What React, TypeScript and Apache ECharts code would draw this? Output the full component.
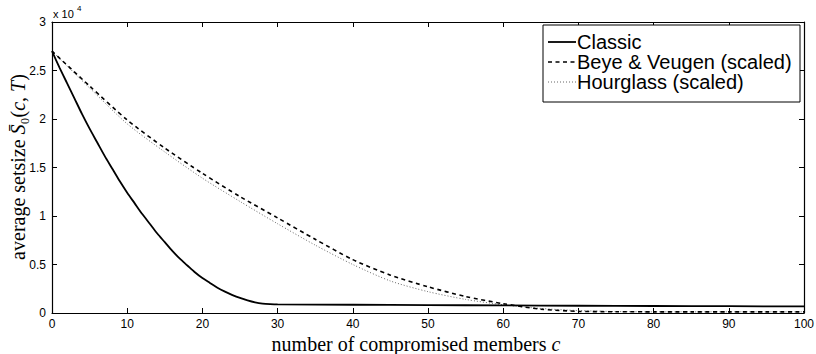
import React, { useEffect, useRef } from "react";
import * as echarts from "echarts";

// values in units of 10^4
const classicX = [0, 1, 2, 3, 4, 5, 6, 7, 8, 9, 10, 11, 12, 13, 14, 15, 16, 17, 18, 19, 20, 21, 22, 23, 24, 25, 26, 27, 28, 29, 30, 40, 50, 60, 70, 80, 90, 100];
const classicY = [2.70, 2.53, 2.37, 2.21, 2.05, 1.90, 1.76, 1.62, 1.49, 1.36, 1.24, 1.13, 1.02, 0.92, 0.82, 0.73, 0.64, 0.56, 0.49, 0.42, 0.36, 0.31, 0.26, 0.22, 0.185, 0.155, 0.13, 0.11, 0.097, 0.091, 0.088, 0.085, 0.082, 0.078, 0.075, 0.072, 0.070, 0.068];

const scaledX = [0, 5, 10, 15, 20, 25, 30, 35, 40, 45, 50, 55, 60, 65, 70, 75, 80, 85, 90, 95, 100];
const beyeY = [2.70, 2.34, 1.99, 1.70, 1.44, 1.20, 0.98, 0.76, 0.55, 0.39, 0.27, 0.17, 0.096, 0.04, 0.017, 0.013, 0.012, 0.012, 0.012, 0.012, 0.012];
const hourglassY = [2.70, 2.32, 1.95, 1.66, 1.39, 1.15, 0.92, 0.70, 0.50, 0.33, 0.22, 0.14, 0.085, 0.047, 0.025, 0.015, 0.012, 0.012, 0.012, 0.012, 0.012];

const xTicks = { min: 0, max: 100, interval: 10 };
const yTicks = { min: 0, max: 3, interval: 0.5 };

const seriesNames = ["Classic", "Beye & Veugen (scaled)", "Hourglass (scaled)"];

const zip = (xs: number[], ys: number[]) => xs.map((x, i) => [x, ys[i]]);

export default function App() {
  const ref = useRef<HTMLDivElement>(null);
  useEffect(() => {
    if (!ref.current) return;
    const chart = echarts.init(ref.current, null, { renderer: "svg" });
    const sans = "Liberation Sans, Arial, Helvetica, sans-serif";
    const serif = "Liberation Serif, DejaVu Serif, serif";
    const axisCommon = {
      axisLine: { show: true, onZero: false, lineStyle: { color: "#000", width: 1.2 } },
      axisTick: { show: true, inside: true, length: 5, lineStyle: { color: "#000", width: 1 } },
      splitLine: { show: false },
    };
    const styles = [
      { color: "#000", width: 1.8, type: "solid" as any },
      { color: "#000", width: 1.6, type: [4, 3.5] as any },
      { color: "#666", width: 1, type: [1, 2] as any },
    ];
    const legendLeft = 543;
    const legendTop = 25;
    const rowY = [42, 62, 82];
    const legendGraphics: any[] = [
      {
        type: "rect",
        shape: { x: legendLeft, y: legendTop, width: 257, height: 77 },
        style: { fill: "#fff", stroke: "#000", lineWidth: 1 },
        z: 10,
      },
    ];
    seriesNames.forEach((n, i) => {
      legendGraphics.push({
        type: "line",
        shape: { x1: legendLeft + 5, y1: rowY[i], x2: legendLeft + 33, y2: rowY[i] },
        style: {
          stroke: styles[i].color,
          lineWidth: styles[i].width,
          lineDash: Array.isArray(styles[i].type) ? styles[i].type : null,
        },
        z: 11,
      });
      legendGraphics.push({
        type: "text",
        x: legendLeft + 34,
        y: rowY[i],
        style: {
          text: n,
          fontFamily: sans,
          fontSize: 20,
          fill: "#000",
          align: "left",
          verticalAlign: "middle",
        },
        z: 11,
      });
    });
    chart.setOption({
      animation: false,
      backgroundColor: "#fff",
      grid: { left: 52, right: 12, top: 22, bottom: 41, outerBoundsMode: "none", containLabel: false },
      xAxis: [
        {
          type: "value",
          ...xTicks,
          position: "bottom",
          ...axisCommon,
          axisLabel: { color: "#000", fontFamily: sans, fontSize: 12, margin: 5 },
        },
        {
          type: "value",
          ...xTicks,
          position: "top",
          ...axisCommon,
          axisLabel: { show: false },
        },
      ],
      yAxis: [
        {
          type: "value",
          ...yTicks,
          position: "left",
          ...axisCommon,
          axisLabel: { color: "#000", fontFamily: sans, fontSize: 12, margin: 6 },
        },
        {
          type: "value",
          ...yTicks,
          position: "right",
          ...axisCommon,
          axisLabel: { show: false },
        },
      ],
      graphic: [
        { type: "text", x: 53, y: 8, style: { text: "x 10", fontFamily: sans, fontSize: 11, fill: "#000" } },
        { type: "text", x: 77, y: 4, style: { text: "4", fontFamily: sans, fontSize: 8, fill: "#000" } },
        {
          type: "text",
          x: 416,
          y: 344,
          style: {
            text: "{t|number of compromised members }{i|c}",
            align: "center",
            verticalAlign: "middle",
            rich: {
              t: { fontFamily: serif, fontSize: 20, fill: "#000" },
              i: { fontFamily: serif, fontStyle: "italic", fontSize: 20, fill: "#000" },
            },
          },
        },
        {
          type: "text",
          x: 18,
          y: 167,
          rotation: Math.PI / 2,
          style: {
            text: "{t|average setsize }{i|S\u0304}{t|\u2080(}{i|c}{t|, }{i|T}{t|)}",
            align: "center",
            verticalAlign: "middle",
            rich: {
              t: { fontFamily: serif, fontSize: 20, fill: "#000" },
              i: { fontFamily: serif, fontStyle: "italic", fontSize: 20, fill: "#000" },
            },
          },
        },
        ...legendGraphics,
      ],
      series: [
        {
          name: seriesNames[0],
          type: "line",
          data: zip(classicX, classicY),
          smooth: 0.25,
          symbol: "none",
          lineStyle: styles[0],
          itemStyle: { color: "#000" },
          z: 3,
        },
        {
          name: seriesNames[1],
          type: "line",
          data: zip(scaledX, beyeY),
          smooth: 0.25,
          symbol: "none",
          lineStyle: styles[1],
          itemStyle: { color: "#000" },
          z: 2,
        },
        {
          name: seriesNames[2],
          type: "line",
          data: zip(scaledX, hourglassY),
          smooth: 0.25,
          symbol: "none",
          lineStyle: styles[2],
          itemStyle: { color: "#666" },
          z: 1,
        },
      ],
    });
    return () => chart.dispose();
  }, []);
  return <div ref={ref} style={{ position: "fixed", left: 0, top: 0, width: 816, height: 354 }} />;
}
